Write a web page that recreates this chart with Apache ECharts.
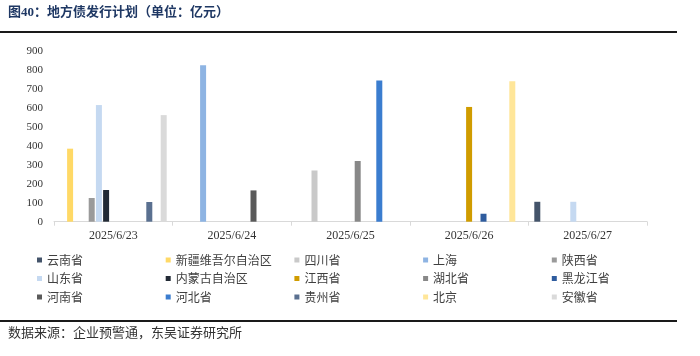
<!DOCTYPE html>
<html>
<head>
<meta charset="utf-8">
<script src="https://cdn.jsdelivr.net/npm/echarts@6/dist/echarts.min.js"></script>
<style>
html,body{margin:0;padding:0;background:#fff;}
#c{width:700px;height:356px;}
</style>
</head>
<body>
<div id="c"></div>
<script>
// ---- data ----
const categories = ['2025/6/23', '2025/6/24', '2025/6/25', '2025/6/26', '2025/6/27'];
const provinces = ['云南省', '新疆维吾尔自治区', '四川省', '上海', '陕西省',
                   '山东省', '内蒙古自治区', '江西省', '湖北省', '黑龙江省',
                   '河南省', '河北省', '贵州省', '北京', '安徽省'];
const yunnan     = [null, null, null, null, 105];
const xinjiang   = [385, null, null, null, null];
const sichuan    = [null, null, 270, null, null];
const shanghai   = [null, 825, null, null, null];
const shaanxi    = [125, null, null, null, null];
const shandong   = [615, null, null, null, 105];
const neimenggu  = [167, null, null, null, null];
const jiangxi    = [null, null, null, 605, null];
const hubei      = [null, null, 320, null, null];
const heilongjiang = [null, null, null, 42, null];
const henan      = [null, 165, null, null, null];
const hebei      = [null, null, 745, null, null];
const guizhou    = [104, null, null, null, null];
const beijing    = [null, null, null, 740, null];
const anhui      = [562, null, null, null, null];
const seriesValues = [yunnan, xinjiang, sichuan, shanghai, shaanxi,
                      shandong, neimenggu, jiangxi, hubei, heilongjiang,
                      henan, hebei, guizhou, beijing, anhui];
const yTicks = [0, 900, 100]; // min, max, interval

// ---- styles ----
const colors = ['#44546A', '#FFD966', '#C9C9C9', '#8EB4E3', '#9A9A9A',
                '#C5D9F1', '#222A35', '#D09C00', '#888888', '#2F5C9E',
                '#5A5A5A', '#3B7DCF', '#5A7090', '#FFE699', '#DADADA'];

const cjk = '"Noto Sans CJK SC"';
const serifMix = '"Liberation Serif", "Noto Sans CJK SC"';

const chart = echarts.init(document.getElementById('c'), null, {renderer: 'canvas'});

const legends = provinces.map((p, i) => {
  const col = i % 5, row = Math.floor(i / 5);
  return {
    data: [p],
    left: 37 + col * 128.7,
    top: 254 + row * 18.5,
    padding: 0,
    itemWidth: 5,
    itemHeight: 5,
    icon: 'rect',
    selectedMode: false,
    textStyle: {fontFamily: cjk, fontSize: 12, color: '#404040', lineHeight: 12}
  };
});

const series = provinces.map((p, i) => ({
  name: p,
  type: 'bar',
  data: seriesValues[i],
  barWidth: 6,
  barGap: '20%',
  itemStyle: {color: colors[i]},
  emphasis: {disabled: true},
  animation: false
}));

chart.setOption({
  animation: false,
  color: colors,
  grid: {left: 54, top: 51, width: 593, height: 170.7, containLabel: false},
  xAxis: {
    type: 'category',
    data: categories,
    boundaryGap: true,
    axisLine: {lineStyle: {color: '#D9D9D9', width: 1}},
    axisTick: {show: true, length: 4, lineStyle: {color: '#D9D9D9'}},
    axisLabel: {fontFamily: '"Liberation Serif"', fontSize: 12, color: '#333', margin: 8}
  },
  yAxis: {
    type: 'value',
    min: yTicks[0],
    max: yTicks[1],
    interval: yTicks[2],
    axisLine: {show: false},
    axisTick: {show: false},
    splitLine: {show: false},
    axisLabel: {fontFamily: '"Liberation Serif"', fontSize: 11, color: '#333', margin: 11}
  },
  legend: legends,
  series: series,
  graphic: [
    {type: 'text', left: 8, top: 6,
     style: {text: '图40：地方债发行计划（单位：亿元）', font: 'bold 13px ' + serifMix, fill: '#1F3864'}},
    {type: 'rect', shape: {x: 0, y: 31, width: 677, height: 2}, style: {fill: '#1a1a1a'}},
    {type: 'rect', shape: {x: 0, y: 320, width: 677, height: 2}, style: {fill: '#1a1a1a'}},
    {type: 'text', left: 8, top: 326,
     style: {text: '数据来源：企业预警通，东吴证券研究所', font: '13px ' + cjk, fill: '#333'}}
  ]
});
</script>
</body>
</html>
